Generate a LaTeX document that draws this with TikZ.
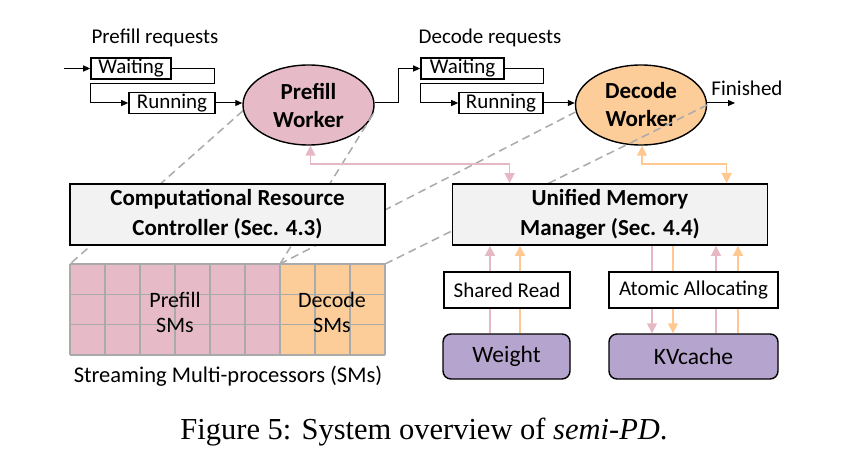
\documentclass[tikz,border=0pt]{standalone}
\usepackage{fontspec}
\setmainfont{Carlito}
\newfontfamily\capfont{Liberation Serif}
\usetikzlibrary{arrows.meta, positioning, shapes.geometric, calc}
\definecolor{prefillpink}{RGB}{230,187,199}
\definecolor{decodeorange}{RGB}{252,204,153}
\definecolor{pinkline}{RGB}{230,184,196}
\definecolor{orangeline}{RGB}{255,200,145}
\definecolor{cachepurple}{RGB}{181,164,206}
\definecolor{boxgray}{RGB}{242,242,242}
\definecolor{gridgray}{RGB}{170,170,170}
\tikzset{
>={Triangle[length=7pt,width=6pt]}, % small filled heads
every node/.style={font=\fontsize{21}{25}\selectfont},
queue/.style={draw, line width=1.6pt, inner sep=0pt, minimum height=21pt},
worker/.style={ellipse, draw, line width=1.4pt, minimum width=131pt, minimum height=80pt, inner sep=0pt, align=center, font=\fontsize{23}{28}\selectfont\bfseries},
manager/.style={draw, line width=1.8pt, fill=boxgray, minimum width=315pt, minimum height=61pt, inner sep=0pt, align=center, font=\fontsize{23}{30}\selectfont\bfseries},
access/.style={draw, line width=1.4pt, fill=white, minimum height=36pt, inner sep=0pt},
store/.style={draw, line width=1.4pt, fill=cachepurple, rounded corners=8pt, minimum height=45pt, inner sep=0pt, font=\fontsize{23.5}{27}\selectfont},
flow/.style={line width=1pt},
share/.style={draw=gridgray, line width=1.5pt, dash pattern=on 8pt off 5pt},
pinkarrow/.style={draw=pinkline, line width=1.6pt, -{Triangle[length=10pt,width=10pt]}, color=pinkline},
orangearrow/.style={draw=orangeline, line width=1.6pt, -{Triangle[length=10pt,width=10pt]}, color=orangeline},
}

\begin{document}
\begin{tikzpicture}[x=1pt, y=-1pt]
      \useasboundingbox (0,0) rectangle (848,468);
      % request queues and workers
      \node (preq) at (155,38) {Prefill requests};
      \node[queue, minimum width=80pt] (pw) at (131,68.5) {Waiting};
      \node[queue, minimum width=86pt] (pr) at (172,103) {Running};
      \node[worker, fill=prefillpink] (pwk) at (308.5,105) {Prefill\\Worker};
      \node (dreq) at (490,38) {Decode requests};
      \node[queue, minimum width=83pt] (dw) at (462.5,68.5) {Waiting};
      \node[queue, minimum width=84pt] (dr) at (501,103) {Running};
      \node[worker, fill=decodeorange] (dwk) at (641,105) {Decode\\Worker};
      \node (fin) at (747,88) {Finished};
      \coordinate (in) at (64,68.5);
      \coordinate (out) at (735,103);
      \coordinate (pbend) at (214,84);
      \coordinate (dbend) at (543,84);

      \draw[flow, ->] (in) -- (pw);
      \draw[flow, ->] (pw.east) -| (pbend) -- (pbend -| pw.west) |- (pr.west);
      \draw[flow, ->] (pr.east) -- (pr.east -| pwk.west);
      \draw[flow, ->] (pr.east -| pwk.east) -- ++(24,0) |- (dw.west);
      \draw[flow, ->] (dw.east) -| (dbend) -- (dbend -| dw.west) |- (dr.west);
      \draw[flow, ->] (dr.east) -- (dr.east -| dwk.west);
      \draw[flow, ->] (dr.east -| dwk.east) -- (out);

      % SM grid
      \coordinate (smtl) at (70,264);
      \coordinate (smmid) at (280,264);
      \coordinate (smtr) at (385,264);
      \fill[prefillpink] (70,264) rectangle (280,355);
      \fill[decodeorange] (280,264) rectangle (385,355);
      \foreach \i in {0,...,9}
        \draw[gridgray, line width=1.3pt] (70+35*\i,264) -- (70+35*\i,355);
      \foreach \j in {0,...,3}
        \draw[gridgray, line width=1.3pt] (70,264+30.33*\j) -- (385,264+30.33*\j);
      \node[align=center, font=\fontsize{22}{25}\selectfont] (psm) at (175,312) {Prefill\\SMs};
      \node[align=center, font=\fontsize{22}{25}\selectfont] (dsm) at (332,312) {Decode\\SMs};
      \node[font=\fontsize{22.5}{27}\selectfont] (smlab) at (228,376) {Streaming Multi-processors (SMs)};

      % dashed mapping lines
      \draw[share] (pwk.185) -- (smtl);
      \draw[share] (pwk.352) -- (smmid);
      \draw[share] (dwk.186) -- (smmid);
      \draw[share] (dwk.east) -- (smtr);

      % controllers
      \node[manager] (crc) at (227.5,214.5) {Computational Resource\\Controller (Sec. 4.3)};
      \node[manager] (umm) at (610,214.5) {Unified Memory\\Manager (Sec. 4.4)};

      \draw[pinkarrow, {Triangle[length=10pt,width=10pt]}-{Triangle[length=10pt,width=10pt]}] (pwk.south) ++(2,0) -- ++(0,18) -| ($(umm.north west)+(58,0)$);
      \draw[orangearrow, {Triangle[length=10pt,width=10pt]}-{Triangle[length=10pt,width=10pt]}] (dwk.south) ++(1,0) -- ++(0,18) -| ($(umm.north west)+(275,0)$);

      % memory objects
      \node[access, minimum width=126pt] (sr) at (507,290) {Shared Read};
      \node[access, minimum width=169pt] (aa) at (693.5,290) {Atomic Allocating};
      \node[store, minimum width=127pt] (wt) at (506.5,356.5) {Weight};
      \node[store, minimum width=169pt] (kv) at (693.5,356.5) {KVcache};

      \foreach \xx/\c in {490/pink, 520/orange} {
        \draw[\c line, line width=1.6pt] (\xx,0 |- wt.north) -- (\xx,0 |- sr.south);
        \draw[\c arrow] (\xx,0 |- sr.north) -- (\xx,0 |- umm.south);
      }
      \foreach \xx/\c in {652/pink, 673/orange} {
        \draw[\c line, line width=1.6pt] (\xx,0 |- umm.south) -- (\xx,0 |- aa.north);
        \draw[\c arrow] (\xx,0 |- aa.south) -- (\xx,0 |- kv.north);
      }
      \foreach \xx/\c in {716/pink, 738/orange} {
        \draw[\c line, line width=1.6pt] (\xx,0 |- kv.north) -- (\xx,0 |- aa.south);
        \draw[\c arrow] (\xx,0 |- aa.north) -- (\xx,0 |- umm.south);
      }

      \node[font=\capfont\fontsize{30.5}{34}\selectfont] (cap) at (424,432) {Figure 5: System overview of \textit{semi-PD}.};
    \end{tikzpicture}
\end{document}
